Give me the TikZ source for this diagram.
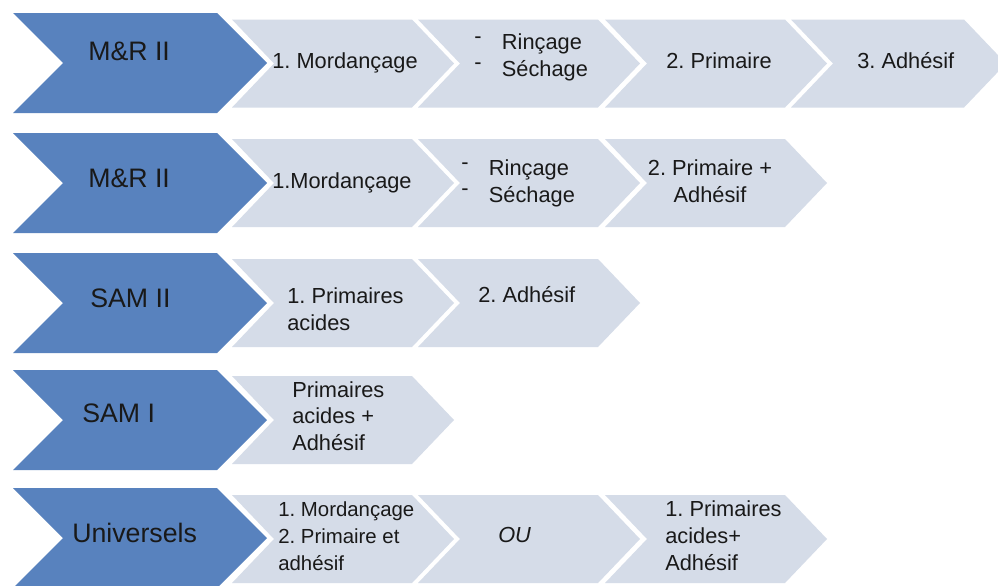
\documentclass[tikz,border=0pt]{standalone}
\usepackage{fontspec}
\setmainfont{Liberation Sans}

\definecolor{stepblue}{RGB}{88,130,190}
\definecolor{steplight}{RGB}{213,220,232}
\definecolor{steptext}{RGB}{25,25,25}

% chevron: colour, left x, centre y, width, half height, tip depth
\newcommand{\chevron}[6]{%
  \fill[#1] (#2,#3-#5) -- ++(#4,0) -- ++(#6,#5) -- ++(-#6,#5) -- ++(-#4,0) -- ++(#6,-#5) -- cycle;}
\newcommand{\dashitem}{\raisebox{0.28em}{-}\hspace{14.5pt}}

\frenchspacing
\begin{document}
\begin{tikzpicture}[x=0.025cm, y=-0.025cm,
head/.style={font=\fontsize{19}{22}\selectfont, text=steptext, inner sep=0pt, anchor=base west},
stage/.style={font=\fontsize{15.5}{18.5}\selectfont, text=steptext, inner sep=0pt, anchor=base west, align=left}
]
\fill[white] (0,0) rectangle (998,585);
\useasboundingbox (0,0) rectangle (998,585);

% Row 1
\chevron{stepblue}{13}{63}{204}{50}{50}
\chevron{steplight}{232}{63.5}{180}{44}{42}
\chevron{steplight}{418}{63.5}{180}{44}{42}
\chevron{steplight}{605}{63.5}{180}{44}{42}
\chevron{steplight}{791}{63.5}{173}{44}{42}
\node[head] (mr1) at (88,60) {M\&R II};
\node[stage] (mord1) at (272,68) {1. Mordançage};
\node[stage] (rinc1) at (474,76) {\dashitem Rinçage\\\dashitem Séchage};
\node[stage] (prim1) at (666,68) {2. Primaire};
\node[stage] (adh1) at (857,68) {3. Adhésif};

% Row 2
\chevron{stepblue}{13}{183}{204}{50}{50}
\chevron{steplight}{232}{183}{180}{44}{42}
\chevron{steplight}{418}{183}{180}{44}{42}
\chevron{steplight}{605}{183}{180}{44}{42}
\node[head] (mr2) at (88,187) {M\&R II};
\node[stage] (mord2) at (272,188) {1.Mordançage};
\node[stage] (rinc2) at (461,202) {\dashitem Rinçage\\\dashitem Séchage};
\node[stage, anchor=base, align=center] (primadh2) at (710,202) {2. Primaire +\\Adhésif};

% Row 3
\chevron{stepblue}{13}{303}{204}{50}{50}
\chevron{steplight}{232}{303}{180}{44}{42}
\chevron{steplight}{418}{303}{180}{44}{42}
\node[head] (sam2) at (90,307) {SAM II};
\node[stage] (primac3) at (287,330) {1. Primaires\\acides};
\node[stage] (adh3) at (478,302) {2. Adhésif};

% Row 4
\chevron{stepblue}{13}{420}{204}{50}{50}
\chevron{steplight}{232}{420}{180}{44}{42}
\node[head] (sam1) at (82,422) {SAM I};
\node[stage] (primac4) at (292,450) {Primaires\\acides +\\Adhésif};

% Row 5
\chevron{stepblue}{13}{538}{204}{50}{50}
\chevron{steplight}{232}{539}{180}{44}{42}
\chevron{steplight}{418}{539}{180}{44}{42}
\chevron{steplight}{605}{539}{180}{44}{42}
\node[head] (univ) at (72,542) {Universels};
\node[stage, font=\fontsize{14.5}{18.9}\selectfont] (mord5) at (278,570) {1. Mordançage\\2. Primaire et\\adhésif};
\node[stage, font=\itshape\fontsize{15.5}{18.5}\selectfont] (ou5) at (498,542) {OU};
\node[stage, font=\fontsize{15.5}{18.9}\selectfont] (primac5) at (665,570) {1. Primaires\\acides+\\Adhésif};

\end{tikzpicture}
\end{document}
